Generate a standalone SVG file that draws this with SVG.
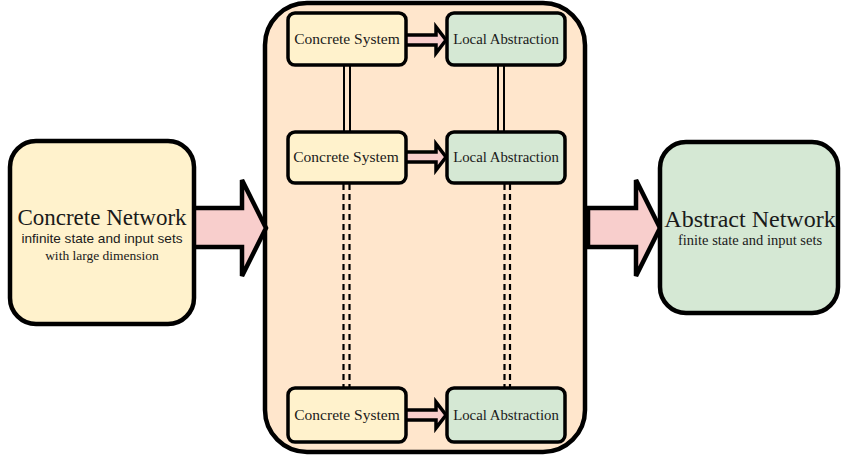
<svg xmlns="http://www.w3.org/2000/svg" width="842" height="456" viewBox="0 0 842 456">
<style>
.stk{stroke:#000;stroke-linejoin:miter}
.yellow{fill:#fff2cc}
.green{fill:#d5e8d4}
.peach{fill:#ffe6cc}
.pink{fill:#f8cecc}
.serif{font-family:"Liberation Serif","Times New Roman",serif;fill:#1a1a1a}
.sans{font-family:"Liberation Sans",Arial,sans-serif;fill:#1a1a1a}
.box{stroke:#000;stroke-width:3.5}
.big{stroke:#000;stroke-width:4.5}
</style>
<rect width="842" height="456" fill="#fff"/>
<g id="container">
<rect x="265" y="3" width="320" height="449" rx="42" ry="42" class="peach big"/>
</g>
<g id="connectors">
<polygon class="pink stk" stroke-width="4.5" points="190,208 242,208 242,180 266,228 242,276 242,247 190,247"/>
<polygon class="pink stk" stroke-width="4.5" points="588,208 636,208 636,180 660,228 636,276 636,247 588,247"/>
<g id="arrows-small" class="pink stk" stroke-width="3.5">
<polygon points="404,35 436,35 436,27 446,40 436,53 436,45 404,45"/>
<polygon points="404,152 436,152 436,144 446,157 436,170 436,162 404,162"/>
<polygon points="404,410 436,410 436,402 446,415 436,428 436,420 404,420"/>
</g>
<g id="links-solid">
<line x1="347" y1="65" x2="347" y2="132" stroke="#000" stroke-width="8"/>
<line x1="347" y1="65" x2="347" y2="132" stroke="#ffe6cc" stroke-width="4"/>
<line x1="501" y1="65" x2="501" y2="132" stroke="#000" stroke-width="8"/>
<line x1="501" y1="65" x2="501" y2="132" stroke="#ffe6cc" stroke-width="4"/>
</g>
<g id="links-dashed" stroke="#000" stroke-width="2.2" stroke-dasharray="6 4">
<line x1="343.5" y1="184" x2="343.5" y2="388"/>
<line x1="349.5" y1="184" x2="349.5" y2="388"/>
<line x1="504.5" y1="184" x2="504.5" y2="388"/>
<line x1="510" y1="184" x2="510" y2="388"/>
</g>
</g>
<g id="concrete-network">
<rect x="10" y="141" width="184" height="183" rx="26" ry="26" class="yellow big"/>
<text x="102" y="225" text-anchor="middle" class="serif" font-size="23">Concrete Network</text>
<text x="102" y="243" text-anchor="middle" class="sans" font-size="13.6">infinite state and input sets</text>
<text x="102" y="260" text-anchor="middle" class="serif" font-size="13.5">with large dimension</text>
</g>
<g id="abstract-network">
<rect x="660" y="142" width="178" height="171" rx="26" ry="26" class="green big"/>
<text x="750" y="227" text-anchor="middle" class="serif" font-size="24">Abstract Network</text>
<text x="750" y="245" text-anchor="middle" class="serif" font-size="14.5">finite state and input sets</text>
</g>
<g id="concrete-system-1">
<rect x="288" y="13" width="118" height="52" rx="7" ry="7" class="yellow box"/>
<text x="347" y="44" text-anchor="middle" class="serif" font-size="15.5">Concrete System</text>
</g>
<g id="local-abstraction-1">
<rect x="447" y="13" width="118" height="52" rx="7" ry="7" class="green box"/>
<text x="506" y="44" text-anchor="middle" class="serif" font-size="14.8">Local Abstraction</text>
</g>
<g id="concrete-system-2">
<rect x="288" y="132" width="118" height="51" rx="7" ry="7" class="yellow box"/>
<text x="346" y="162" text-anchor="middle" class="serif" font-size="15.5">Concrete System</text>
</g>
<g id="local-abstraction-2">
<rect x="447" y="132" width="118" height="51" rx="7" ry="7" class="green box"/>
<text x="506" y="162" text-anchor="middle" class="serif" font-size="14.8">Local Abstraction</text>
</g>
<g id="concrete-system-3">
<rect x="288" y="388" width="118" height="54" rx="7" ry="7" class="yellow box"/>
<text x="347" y="420" text-anchor="middle" class="serif" font-size="15.5">Concrete System</text>
</g>
<g id="local-abstraction-3">
<rect x="447" y="388" width="118" height="54" rx="7" ry="7" class="green box"/>
<text x="506" y="420" text-anchor="middle" class="serif" font-size="14.8">Local Abstraction</text>
</g>
</svg>
